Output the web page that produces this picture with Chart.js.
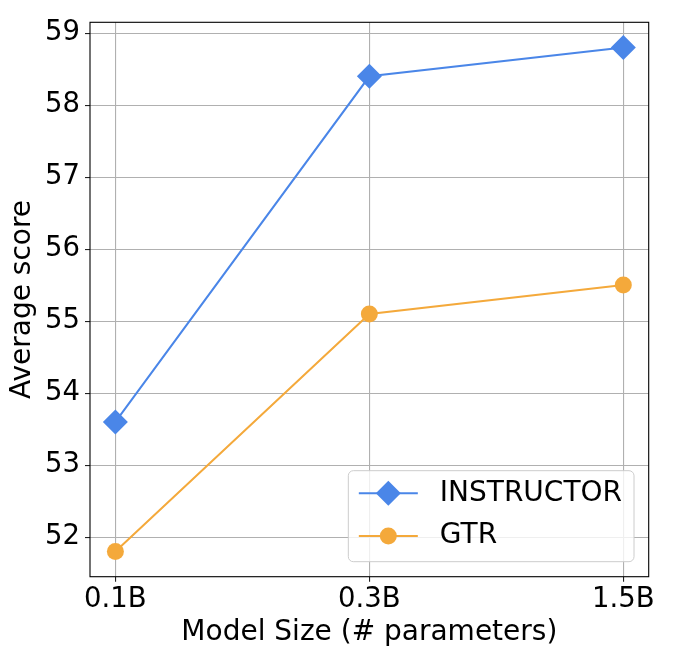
<!DOCTYPE html>
<html>
<head>
<meta charset="utf-8">
<script src="https://cdn.jsdelivr.net/npm/chart.js@4.4.1/dist/chart.umd.min.js"></script>
<style>
  html, body { margin: 0; padding: 0; background: #fff; }
  canvas { display: block; }
</style>
</head>
<body>
<canvas id="scoreChart" width="680" height="671"></canvas>
<script>
// data
const sizeLabels = ["0.1B", "0.3B", "1.5B"];
const instructorScores = [53.6, 58.4, 58.8];
const gtrScores = [51.8, 55.1, 55.5];
const yTickValues = [52, 53, 54, 55, 56, 57, 58, 59];

const FONT = "'DejaVu Sans', sans-serif";

// frame around the plot area (matplotlib spines)
const framePlugin = {
    id: "frame",
    afterDatasetsDraw(chart) {
        const { ctx, chartArea: a } = chart;
        ctx.save();
        ctx.strokeStyle = "#000";
        ctx.lineWidth = 1.1;
        ctx.strokeRect(a.left, a.top, a.right - a.left, a.bottom - a.top);
        ctx.restore();
    }
};

// legend with line + marker samples, boxed in the lower right
const legendPlugin = {
    id: "boxLegend",
    afterDraw(chart) {
        const { ctx, chartArea: a } = chart;
        const items = chart.data.datasets;
        ctx.save();
        ctx.font = "28px " + FONT;
        const textW = Math.max(...items.map(d => ctx.measureText(d.label).width));
        const padL = 10.5, handleLen = 59, gap = 22, padR = 12;
        const rowH = 42.7, padT = 22.6, padB = 25.7;
        const w = padL + handleLen + gap + textW + padR;
        const h = padT + rowH * (items.length - 1) + padB;
        const x = a.right - 14.7 - w;
        const y = a.bottom - 15 - h;

        ctx.beginPath();
        ctx.roundRect(x, y, w, h, 5);
        ctx.fillStyle = "rgba(255,255,255,0.8)";
        ctx.fill();
        ctx.strokeStyle = "#cccccc";
        ctx.lineWidth = 1;
        ctx.stroke();

        items.forEach((d, i) => {
            const cy = y + padT + i * rowH;
            const x0 = x + padL, x1 = x0 + handleLen, cx = (x0 + x1) / 2;
            ctx.strokeStyle = d.borderColor;
            ctx.lineWidth = d.borderWidth;
            ctx.beginPath();
            ctx.moveTo(x0, cy);
            ctx.lineTo(x1, cy);
            ctx.stroke();

            ctx.fillStyle = d.pointBackgroundColor;
            const r = d.pointRadius;
            ctx.beginPath();
            if (d.pointStyle === "rectRot") {
                ctx.moveTo(cx, cy - r);
                ctx.lineTo(cx + r, cy);
                ctx.lineTo(cx, cy + r);
                ctx.lineTo(cx - r, cy);
                ctx.closePath();
            } else {
                ctx.arc(cx, cy, r, 0, Math.PI * 2);
            }
            ctx.fill();

            ctx.fillStyle = "#000";
            ctx.textAlign = "left";
            ctx.textBaseline = "middle";
            ctx.fillText(d.label, x1 + gap, cy);
        });
        ctx.restore();
    }
};

const toPoints = arr => arr.map((v, i) => ({ x: i, y: v }));

const ctx = document.getElementById("scoreChart").getContext("2d");
new Chart(ctx, {
    type: "line",
    data: {
        datasets: [
            {
                label: "INSTRUCTOR",
                data: toPoints(instructorScores),
                borderColor: "#4a86e8",
                backgroundColor: "#4a86e8",
                pointBackgroundColor: "#4a86e8",
                pointBorderWidth: 0,
                borderWidth: 2,
                pointStyle: "rectRot",
                pointRadius: 12.5,
                tension: 0,
                clip: false
            },
            {
                label: "GTR",
                data: toPoints(gtrScores),
                borderColor: "#f4a93b",
                backgroundColor: "#f4a93b",
                pointBackgroundColor: "#f4a93b",
                pointBorderWidth: 0,
                borderWidth: 2,
                pointStyle: "circle",
                pointRadius: 8.5,
                tension: 0,
                clip: false
            }
        ]
    },
    options: {
        responsive: false,
        animation: false,
        devicePixelRatio: 1,
        layout: { padding: { left: 0, top: 22.3, right: 31.3, bottom: 0 } },
        plugins: {
            legend: { display: false },
            tooltip: { enabled: false }
        },
        scales: {
            x: {
                type: "linear",
                min: -0.1,
                max: 2.1,
                afterBuildTicks: s => { s.ticks = sizeLabels.map((_, i) => ({ value: i })); },
                afterFit: s => { s.height = 94.3; s.paddingLeft = 0; s.paddingRight = 0; },
                ticks: {
                    callback: v => sizeLabels[v],
                    color: "#000",
                    padding: 1.5,
                    maxRotation: 0,
                    font: { family: FONT, size: 27.5 }
                },
                grid: { color: "#b0b0b0", lineWidth: 1.1, tickLength: 5, tickColor: "#222", tickWidth: 1.1 },
                border: { display: false },
                title: {
                    display: true,
                    text: "Model Size (# parameters)",
                    color: "#000",
                    padding: { top: 0, bottom: 21.2 },
                    font: { family: FONT, size: 28 }
                }
            },
            y: {
                min: 51.45,
                max: 59.15,
                afterBuildTicks: s => { s.ticks = yTickValues.map(v => ({ value: v })); },
                afterFit: s => { s.width = 90; s.paddingTop = 0; s.paddingBottom = 0; },
                ticks: {
                    color: "#000",
                    padding: 5,
                    font: { family: FONT, size: 27.5 }
                },
                grid: { color: "#b0b0b0", lineWidth: 1.1, tickLength: 5, tickColor: "#222", tickWidth: 1.1 },
                border: { display: false },
                title: {
                    display: true,
                    text: "Average score",
                    color: "#000",
                    padding: { top: 5.8, bottom: 0 },
                    font: { family: FONT, size: 28 }
                }
            }
        }
    },
    plugins: [framePlugin, legendPlugin]
});
</script>
</body>
</html>
